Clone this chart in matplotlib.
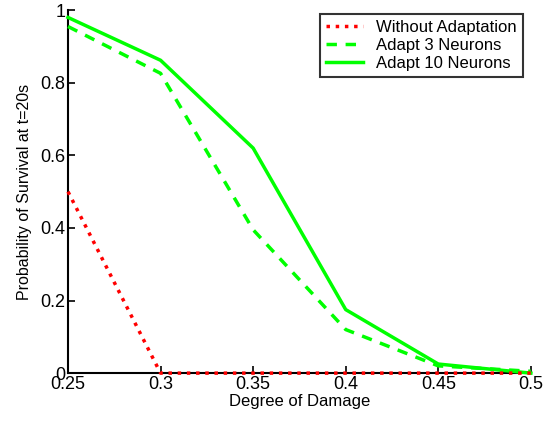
import matplotlib.pyplot as plt

plt.rcParams['font.family'] = ['Liberation Sans', 'DejaVu Sans']

# Datos
damage = [0.25, 0.3, 0.35, 0.4, 0.45, 0.5]
without_adapt = [0.5, 0.0, 0.0, 0.0, 0.0, 0.0]
adapt_3 = [0.955, 0.826, 0.395, 0.12, 0.02, 0.005]
adapt_10 = [0.98, 0.862, 0.62, 0.175, 0.025, 0.0]

fig = plt.figure(figsize=(5.55, 4.24), dpi=100)
ax = fig.add_axes([0.1225, 0.12, 0.834, 0.856])

ax.plot(damage, without_adapt, color='#ff0000', linestyle=':', linewidth=2.5,
        label='Without Adaptation', clip_on=False, zorder=4)
ax.plot(damage, adapt_3, color='#00ff00', linestyle='--', linewidth=2.5, dashes=(3, 2.5),
        label='Adapt 3 Neurons', clip_on=False, zorder=3)
ax.plot(damage, adapt_10, color='#00ff00', linestyle='-', linewidth=2.5,
        label='Adapt 10 Neurons', clip_on=False, zorder=3)

ax.set_xlim(0.25, 0.5)
ax.set_ylim(0, 1)
ax.set_xticks(damage)
ax.set_xticklabels(['0.25', '0.3', '0.35', '0.4', '0.45', '0.5'])
ax.set_yticks([0, 0.2, 0.4, 0.6, 0.8, 1])
ax.set_yticklabels(['0', '0.2', '0.4', '0.6', '0.8', '1'])
ax.tick_params(direction='in', labelsize=13, width=1.2, length=5, pad=2)
ax.spines['top'].set_visible(False)
ax.spines['right'].set_visible(False)
ax.spines['left'].set_linewidth(1.5)
ax.spines['bottom'].set_linewidth(1.5)

ax.set_xlabel('Degree of Damage', fontsize=12, labelpad=1)
ax.set_ylabel('Probability of Survival at t=20s', fontsize=11.5, labelpad=6)

leg = ax.legend(loc='upper right', bbox_to_anchor=(0.982, 0.99), fontsize=12, frameon=True,
                fancybox=False, edgecolor='black', handlelength=2.2, borderpad=0.35,
                labelspacing=0.2, handletextpad=0.8, borderaxespad=0)
leg.get_frame().set_linewidth(1.5)
leg.set_zorder(5)

plt.savefig('out.png', dpi=100)
